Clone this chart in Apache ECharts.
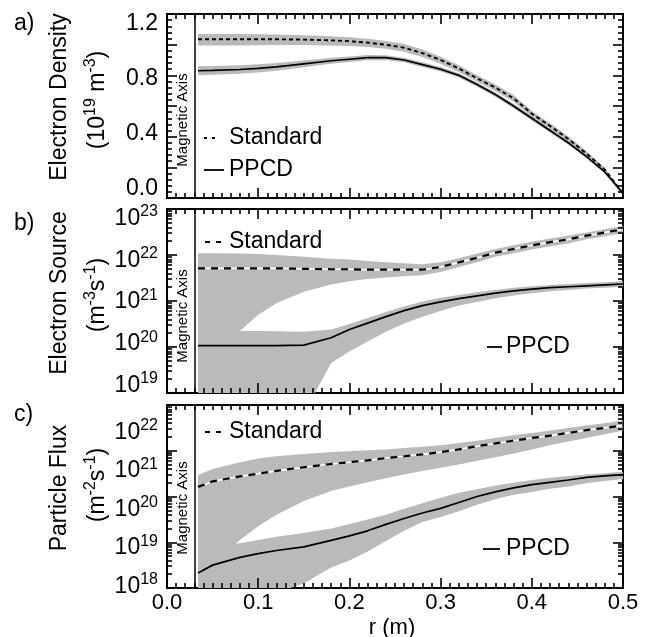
<!DOCTYPE html>
<html>
<head>
<meta charset="utf-8">
<script src="https://cdn.jsdelivr.net/npm/echarts@6/dist/echarts.min.js"></script>
<style>
html,body{margin:0;padding:0;background:#fff;}
#chart{width:649px;height:637px;}
</style>
</head>
<body>
<div id="chart"></div>
<script type="text/javascript">
// radius samples (m), shared by every profile
var rPts = [0.034, 0.05, 0.08, 0.1, 0.12, 0.15, 0.18, 0.2, 0.22, 0.24, 0.26, 0.28, 0.3, 0.32, 0.34, 0.36, 0.38, 0.4, 0.42, 0.44, 0.46, 0.48, 0.5];
var magAxisR = 0.033;
var xTicks = [0.0, 0.1, 0.2, 0.3, 0.4, 0.5];
var densTicks = [0.0, 0.4, 0.8, 1.2];

// a) electron density (1e19 m^-3)
var densStd    = [1.035, 1.035, 1.035, 1.035, 1.035, 1.033, 1.028, 1.023, 1.013, 1.0, 0.98, 0.945, 0.9, 0.845, 0.78, 0.72, 0.65, 0.55, 0.47, 0.385, 0.29, 0.185, 0.03];
var densStdLo  = [0.995, 0.995, 0.995, 0.996, 0.998, 0.998, 0.995, 0.992, 0.984, 0.973, 0.954, 0.92, 0.876, 0.822, 0.758, 0.698, 0.628, 0.53, 0.452, 0.367, 0.275, 0.172, 0.02];
var densStdHi  = [1.07, 1.07, 1.07, 1.068, 1.066, 1.062, 1.055, 1.048, 1.038, 1.024, 1.004, 0.968, 0.922, 0.866, 0.8, 0.74, 0.672, 0.568, 0.488, 0.402, 0.305, 0.198, 0.04];
var densPpcd   = [0.83, 0.832, 0.838, 0.845, 0.855, 0.875, 0.895, 0.905, 0.915, 0.915, 0.9, 0.87, 0.84, 0.8, 0.74, 0.675, 0.6, 0.52, 0.44, 0.36, 0.27, 0.17, 0.03];
var densPpcdLo = [0.8, 0.803, 0.81, 0.818, 0.83, 0.853, 0.876, 0.887, 0.898, 0.899, 0.885, 0.855, 0.825, 0.786, 0.726, 0.661, 0.586, 0.506, 0.427, 0.348, 0.26, 0.162, 0.025];
var densPpcdHi = [0.86, 0.861, 0.866, 0.872, 0.88, 0.897, 0.914, 0.923, 0.932, 0.931, 0.915, 0.885, 0.855, 0.814, 0.754, 0.689, 0.614, 0.534, 0.453, 0.372, 0.28, 0.178, 0.035];

// b) electron source, log10 of m^-3 s^-1
var srcStd    = [21.71, 21.71, 21.71, 21.71, 21.71, 21.70, 21.69, 21.69, 21.68, 21.68, 21.68, 21.68, 21.74, 21.84, 21.94, 22.05, 22.13, 22.21, 22.28, 22.34, 22.42, 22.49, 22.56];
var srcStdLo  = [19.5, 19.9, 20.35, 20.7, 20.95, 21.2, 21.36, 21.43, 21.48, 21.51, 21.54, 21.56, 21.63, 21.74, 21.84, 21.96, 22.04, 22.12, 22.19, 22.25, 22.34, 22.41, 22.48];
var srcStdHi  = [22.04, 22.04, 22.03, 22.02, 22.0, 21.96, 21.92, 21.9, 21.87, 21.84, 21.82, 21.8, 21.84, 21.93, 22.03, 22.13, 22.21, 22.29, 22.36, 22.42, 22.49, 22.56, 22.63];
var srcPpcd   = [20.03, 20.03, 20.03, 20.03, 20.03, 20.04, 20.2, 20.38, 20.52, 20.66, 20.79, 20.9, 20.98, 21.05, 21.11, 21.17, 21.22, 21.26, 21.29, 21.31, 21.33, 21.35, 21.37];
var srcPpcdLo = [18.5, 18.5, 18.5, 18.5, 18.5, 18.55, 19.65, 19.9, 20.12, 20.33, 20.51, 20.66, 20.78, 20.9, 20.98, 21.06, 21.12, 21.17, 21.21, 21.24, 21.27, 21.29, 21.31];
var srcPpcdHi = [20.35, 20.35, 20.35, 20.35, 20.34, 20.33, 20.38, 20.5, 20.63, 20.76, 20.88, 20.99, 21.07, 21.13, 21.19, 21.24, 21.29, 21.32, 21.35, 21.37, 21.39, 21.41, 21.43];

// c) particle flux, log10 of m^-2 s^-1
var fluxStd    = [20.21, 20.33, 20.44, 20.5, 20.56, 20.64, 20.71, 20.75, 20.79, 20.84, 20.88, 20.92, 20.97, 21.03, 21.1, 21.16, 21.22, 21.28, 21.33, 21.39, 21.45, 21.5, 21.55];
var fluxStdLo  = [18.0, 18.5, 19.05, 19.35, 19.6, 19.9, 20.12, 20.22, 20.31, 20.4, 20.48, 20.56, 20.63, 20.7, 20.78, 20.86, 20.94, 21.03, 21.12, 21.2, 21.28, 21.36, 21.44];
var fluxStdHi  = [20.47, 20.6, 20.75, 20.83, 20.88, 20.93, 20.97, 20.99, 21.01, 21.03, 21.06, 21.09, 21.12, 21.17, 21.22, 21.28, 21.34, 21.39, 21.44, 21.5, 21.55, 21.6, 21.66];
var fluxPpcd   = [18.33, 18.5, 18.67, 18.75, 18.82, 18.9, 19.04, 19.14, 19.25, 19.39, 19.52, 19.64, 19.74, 19.87, 20.0, 20.1, 20.19, 20.26, 20.31, 20.36, 20.42, 20.45, 20.48];
var fluxPpcdLo = [17.5, 17.6, 17.7, 17.8, 17.9, 18.1, 18.45, 18.6, 18.8, 19.03, 19.25, 19.44, 19.55, 19.68, 19.82, 19.94, 20.04, 20.1, 20.17, 20.22, 20.29, 20.34, 20.38];
var fluxPpcdHi = [18.9, 18.92, 18.98, 19.05, 19.12, 19.2, 19.3, 19.4, 19.5, 19.6, 19.73, 19.85, 19.97, 20.08, 20.16, 20.24, 20.3, 20.36, 20.41, 20.45, 20.48, 20.51, 20.54];

var srcDecades = [19, 20, 21, 22, 23];
var fluxDecades = [18, 19, 20, 21, 22];

// data ranges per panel, and the slightly squeezed ranges the tick labels were set against
var dataRange  = [[0, 1.2], [19, 23], [18, 22]];
var labelRange = [[-0.0655, 1.2727], [18.784, 23.19], [17.922, 22.675]];

var FONT = 'Liberation Sans, Arial, Helvetica, sans-serif';
var BAND = '#bababa';
var PLOT_W = 456, PLOT_H = [184, 184, 183];
var MAJ = 10, MIN = 5;

function pairs(vals){
	return rPts.map(function(r, i){ return [r, vals[i]]; });
}

function bandSeries(gi, lo, hi){
	return {
		type: 'custom', xAxisIndex: 2*gi, yAxisIndex: 2*gi + 1, silent: true, z: 1, clip: true,
		data: rPts.map(function(r, i){ return [r, lo[i], hi[i]]; }),
		encode: {x: 0, y: [1, 2]},
		renderItem: function(params, api){
			if (params.dataIndexInside !== 0) return null;
			var n = params.dataInsideLength, pts = [], i;
			for (i = 0; i < n; i++) pts.push(api.coord([api.value(0, i), api.value(2, i)]));
			for (i = n - 1; i >= 0; i--) pts.push(api.coord([api.value(0, i), api.value(1, i)]));
			var cs = params.coordSys;
			return {
				type: 'polygon', shape: {points: pts}, style: {fill: BAND, stroke: null},
				clipPath: {type: 'rect', shape: {x: cs.x, y: cs.y, width: cs.width, height: cs.height}}
			};
		}
	};
}

// inward ticks on all four edges as short mark segments (length in px, turned into data units);
// endpoints are pulled a hair inside the edges so the marks are not filtered out
function frameMarks(gi, yTicks){
	var y0 = dataRange[gi][0], y1 = dataRange[gi][1];
	var xPerPx = 0.5 / PLOT_W, yPerPx = (y1 - y0) / PLOT_H[gi];
	var ex = 1e-6, ey = (y1 - y0) * 2e-6;
	var xL = ex, xR = 0.5 - ex, yB = y0 + ey, yT = y1 - ey;
	function clampY(v){ return Math.min(yT, Math.max(yB, v)); }
	var marks = [], i;
	for (i = 0; i <= 50; i++){
		var x = Math.min(xR, Math.max(xL, i / 100)), len = i % 10 === 0 ? MAJ : MIN;
		marks.push([{coord: [x, yB]}, {coord: [x, y0 + len * yPerPx]}]);
		marks.push([{coord: [x, y1 - len * yPerPx]}, {coord: [x, yT]}]);
	}
	yTicks.forEach(function(t){
		var len = t[1] ? MAJ : MIN, v = clampY(t[0]);
		marks.push([{coord: [xL, v]}, {coord: [len * xPerPx, v]}]);
		marks.push([{coord: [0.5 - len * xPerPx, v]}, {coord: [xR, v]}]);
	});
	return marks;
}

function lineSeries(gi, vals, opts){
	var marks = [];
	if (opts.magAxis) marks.push({xAxis: magAxisR, lineStyle: {width: 1.5}});
	if (opts.ticks) marks = marks.concat(frameMarks(gi, opts.ticks));
	return {
		type: 'line', xAxisIndex: 2*gi, yAxisIndex: 2*gi + 1, data: pairs(vals),
		symbol: 'none', showSymbol: false, silent: true, clip: true, z: opts.z || 3,
		lineStyle: {color: opts.color || '#000', width: opts.width || 1.7, type: opts.dash || 'solid'},
		markLine: marks.length ? {
			silent: true, symbol: ['none', 'none'], label: {show: false}, animation: false,
			lineStyle: {color: '#000', width: 1.6, type: 'solid'},
			data: marks
		} : undefined
	};
}

function linTicks(){
	var t = [];
	for (var i = 0; i <= 30; i++) t.push([i * 0.04, i % 5 === 0 ? 1 : 0]);
	return t;
}
function logTicks(decades){
	var t = [];
	decades.forEach(function(d, j){
		t.push([d, 1]);
		if (j < decades.length - 1) for (var k = 2; k <= 9; k++) t.push([d + Math.log10(k), 0]);
	});
	return t;
}

var lineAx = {show: true, onZero: false, lineStyle: {color: '#000', width: 2}};
var noTick = {show: false};

function xAxes(gi){
	var base = {
		type: 'value', gridIndex: gi, min: 0, max: 0.5, interval: 0.1,
		axisLine: lineAx, axisTick: noTick, minorTick: noTick,
		splitLine: {show: false}, minorSplitLine: {show: false}
	};
	var bottom = Object.assign({}, base, {
		position: 'bottom',
		axisLabel: {show: gi === 2, margin: 4, color: '#000', fontSize: 22, fontFamily: FONT,
			showMinLabel: true, showMaxLabel: true,
			formatter: function(v){ return xTicks.indexOf(Math.round(v*10)/10) >= 0 ? v.toFixed(1) : ''; }}
	});
	var top = Object.assign({}, base, {position: 'top', axisLabel: {show: false}});
	return [bottom, top];
}

var supRich = {
	b: {fontSize: 23, fontFamily: FONT, color: '#000', lineHeight: 26, verticalAlign: 'bottom'},
	s: {fontSize: 16, fontFamily: FONT, color: '#000', lineHeight: 17, verticalAlign: 'top'}
};

function yAxes(gi){
	var isLin = gi === 0;
	var labelVals = isLin ? densTicks : (gi === 1 ? srcDecades : fluxDecades);
	// left: carries the tick labels; right: the data scale of the panel
	var labelAxis = {
		type: 'value', gridIndex: gi, position: 'left',
		min: labelRange[gi][0], max: labelRange[gi][1],
		axisLine: lineAx, axisTick: noTick, minorTick: noTick,
		splitLine: {show: false}, minorSplitLine: {show: false},
		axisLabel: {
			margin: 9, color: '#000', fontSize: 23, fontFamily: FONT, rich: supRich,
			customValues: labelVals,
			formatter: isLin
				? function(v){ return v.toFixed(1); }
				: function(v){ return '{b|10}{s|' + Math.round(v) + '}'; }
		}
	};
	var dataAxis = {
		type: 'value', gridIndex: gi, position: 'right',
		min: dataRange[gi][0], max: dataRange[gi][1], interval: isLin ? 0.2 : 1,
		axisLine: lineAx, axisTick: noTick, minorTick: noTick,
		splitLine: {show: false}, minorSplitLine: {show: false},
		axisLabel: {show: false}
	};
	return [labelAxis, dataAxis];
}

function txt(x, y, text, size, opts){
	opts = opts || {};
	return {
		type: 'text', x: x, y: y, rotation: opts.rot || 0, silent: true, z: 20,
		style: {
			text: text, fill: '#000', fontSize: size, fontFamily: FONT,
			align: opts.align || 'left', textAlign: opts.align || 'left',
			verticalAlign: 'middle', textVerticalAlign: 'middle',
			rich: opts.rich
		}
	};
}

function seg(x1, x2, y, dash){
	return {type: 'line', silent: true, z: 20, shape: {x1: x1, y1: y, x2: x2, y2: y},
		style: {stroke: '#000', lineWidth: 1.8, lineDash: dash || null}};
}

var R90 = Math.PI / 2;

var chart = echarts.init(document.getElementById('chart'), null, {renderer: 'canvas'});
var option = {
	animation: false,
	backgroundColor: '#fff',
	textStyle: {fontFamily: FONT, color: '#000'},
	grid: [
		{left: 167, top: 14, width: PLOT_W, height: PLOT_H[0]},
		{left: 167, top: 209, width: PLOT_W, height: PLOT_H[1]},
		{left: 167, top: 405, width: PLOT_W, height: PLOT_H[2]}
	],
	xAxis: [].concat(xAxes(0), xAxes(1), xAxes(2)),
	yAxis: [].concat(yAxes(0), yAxes(1), yAxes(2)),
	series: [
		bandSeries(0, densStdLo, densStdHi),
		bandSeries(0, densPpcdLo, densPpcdHi),
		lineSeries(0, densStd, {dash: [4, 3], width: 1.9}),
		lineSeries(0, densPpcd, {magAxis: true, ticks: linTicks()}),

		bandSeries(1, srcStdLo, srcStdHi),
		bandSeries(1, srcPpcdLo, srcPpcdHi),
		lineSeries(1, srcStd, {color: '#fff', width: 1.6, z: 2}),
		lineSeries(1, srcStd, {dash: [7, 6], width: 2.2}),
		lineSeries(1, srcPpcd, {magAxis: true, ticks: logTicks(srcDecades)}),

		bandSeries(2, fluxStdLo, fluxStdHi),
		bandSeries(2, fluxPpcdLo, fluxPpcdHi),
		lineSeries(2, fluxStd, {color: '#fff', width: 1.6, z: 2}),
		lineSeries(2, fluxStd, {dash: [7, 6], width: 2.2}),
		lineSeries(2, fluxPpcd, {magAxis: true, ticks: logTicks(fluxDecades)})
	],
	graphic: [
		txt(14, 24, 'a)', 23),
		txt(14, 224, 'b)', 23),
		txt(14, 415, 'c)', 23),

		txt(60, 97, 'Electron Density', 23, {rot: R90, align: 'center'}),
		txt(96, 100, '{b|(10}{s|19}{b| m}{s|-3}{b|)}', 23, {rot: R90, align: 'center', rich: supRich}),
		txt(60, 293, 'Electron Source', 23, {rot: R90, align: 'center'}),
		txt(96, 295, '{b|(m}{s|-3}{b|s}{s|-1}{b|)}', 23, {rot: R90, align: 'center', rich: supRich}),
		txt(60, 488, 'Particle Flux', 23, {rot: R90, align: 'center'}),
		txt(96, 485, '{b|(m}{s|-2}{b|s}{s|-1}{b|)}', 23, {rot: R90, align: 'center', rich: supRich}),

		txt(183, 120, 'Magnetic Axis', 15, {rot: R90, align: 'center'}),
		txt(183, 316, 'Magnetic Axis', 15, {rot: R90, align: 'center'}),
		txt(183, 508, 'Magnetic Axis', 15, {rot: R90, align: 'center'}),

		seg(204, 219, 138, [3, 5]), txt(229, 138, 'Standard', 23),
		seg(204, 224, 170), txt(229, 170, 'PPCD', 23),
		seg(205, 221, 242, [5, 6]), txt(229, 242, 'Standard', 23),
		seg(487, 502, 347), txt(506, 347, 'PPCD', 23),
		seg(205, 221, 432, [5, 6]), txt(229, 432, 'Standard', 23),
		seg(483, 500, 549), txt(506, 549, 'PPCD', 23),

		txt(392, 628, 'r (m)', 22, {align: 'center'})
	]
};
chart.setOption(option);
</script>
</body>
</html>
